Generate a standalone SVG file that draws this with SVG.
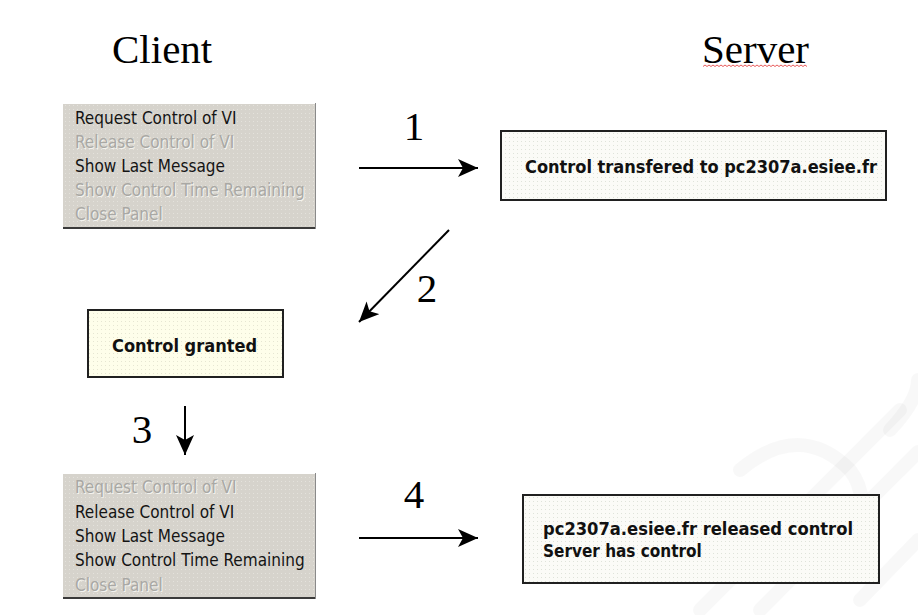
<svg xmlns="http://www.w3.org/2000/svg" width="918" height="615" viewBox="0 0 918 615">
  <defs>
    <!-- dotted fills for the captured panels -->
    <pattern id="dotsGray" width="4" height="4" patternUnits="userSpaceOnUse">
      <rect width="4" height="4" fill="#d6d3cc"/>
      <rect x="1" y="1" width="1" height="1" fill="#e4e2dc"/>
    </pattern>
    <pattern id="dotsWhite" width="4" height="4" patternUnits="userSpaceOnUse">
      <rect width="4" height="4" fill="#fbfbf7"/>
      <rect x="1" y="1" width="1" height="1" fill="#dfe3da"/>
    </pattern>
    <pattern id="dotsYellow" width="4" height="4" patternUnits="userSpaceOnUse">
      <rect width="4" height="4" fill="#fefeea"/>
      <rect x="1" y="1" width="1" height="1" fill="#e6e6d2"/>
    </pattern>
    <marker id="head" markerUnits="userSpaceOnUse" markerWidth="22" markerHeight="20" refX="20" refY="9" orient="auto">
      <path d="M0,0 L20,9 L0,18 L5,9 Z" fill="#000"/>
    </marker>
    <style>
      .title { font-family: "Liberation Serif", "Times New Roman", serif; font-size: 41px; fill: #000; }
      .num { font-family: "Liberation Serif", "Times New Roman", serif; font-size: 41px; fill: #000; text-anchor: middle; }
      .menu { font-family: "DejaVu Sans Condensed", "DejaVu Sans", sans-serif; font-stretch: condensed; font-size: 17px; }
      .on { fill: #141414; }
      .off { fill: #a9a8a4; }
      .offShadow { fill: #f4f3ef; }
      .msg { font-family: "DejaVu Sans Condensed", "DejaVu Sans", sans-serif; font-stretch: condensed; font-size: 17px; font-weight: bold; fill: #111; }
      .panel { stroke: #202020; stroke-width: 2; }
      .conn { stroke: #000; stroke-width: 2; fill: none; marker-end: url(#head); }
    </style>
  </defs>

  <rect width="918" height="615" fill="#ffffff"/>

  <!-- faint logo mark in the lower right corner -->
  <g id="watermark" fill="none" stroke="#000" stroke-opacity="0.028" stroke-width="14" stroke-linecap="round">
    <path d="M700,610 L900,410"/>
    <path d="M760,610 L918,452"/>
    <path d="M740,470 Q800,420 850,470 Q880,510 830,560"/>
    <path d="M860,600 L918,540"/>
    <path d="M890,430 Q918,400 918,380"/>
  </g>

  <!-- column headings -->
  <g id="headings">
    <text class="title" x="112" y="63">Client</text>
    <text class="title" x="702" y="63">Server</text>
    <path d="M703,66.5 l2,-1.5 l2,1.5 l2,-1.5 l2,1.5 l2,-1.5 l2,1.5 l2,-1.5 l2,1.5 l2,-1.5 l2,1.5 l2,-1.5 l2,1.5 l2,-1.5 l2,1.5 l2,-1.5 l2,1.5 l2,-1.5 l2,1.5 l2,-1.5 l2,1.5 l2,-1.5 l2,1.5 l2,-1.5 l2,1.5 l2,-1.5 l2,1.5 l2,-1.5 l2,1.5 l2,-1.5 l2,1.5 l2,-1.5 l2,1.5 l2,-1.5 l2,1.5 l2,-1.5 l2,1.5 l2,-1.5 l2,1.5 l2,-1.5 l2,1.5 l2,-1.5 l2,1.5 l2,-1.5 l2,1.5 l2,-1.5 l2,1.5 l2,-1.5 l2,1.5 l2,-1.5 l2,1.5 l2,-1.5 l2,1.5" fill="none" stroke="#e23030" stroke-width="0.8"/>
  </g>

  <!-- client menu before the request -->
  <g id="menuRequest">
    <rect x="63" y="103" width="253" height="126" fill="url(#dotsGray)"/>
    <line x1="63" y1="103.5" x2="316" y2="103.5" stroke="#ffffff" stroke-width="1"/>
    <line x1="63" y1="228" x2="316" y2="228" stroke="#3a3a3a" stroke-width="2"/>
    <line x1="315.5" y1="103" x2="315.5" y2="229" stroke="#8a8a8a" stroke-width="1"/>
    <text class="menu on" x="75" y="124">Request Control of VI</text>
    <text class="menu offShadow" x="76" y="149">Release Control of VI</text>
    <text class="menu off" x="75" y="148">Release Control of VI</text>
    <text class="menu on" x="75" y="172">Show Last Message</text>
    <text class="menu offShadow" x="76" y="197">Show Control Time Remaining</text>
    <text class="menu off" x="75" y="196">Show Control Time Remaining</text>
    <text class="menu offShadow" x="76" y="221">Close Panel</text>
    <text class="menu off" x="75" y="220">Close Panel</text>
  </g>

  <!-- server message after the transfer -->
  <g id="serverTransfer">
    <rect x="501" y="131" width="385" height="69" fill="url(#dotsWhite)" class="panel"/>
    <text class="msg" x="525" y="173" textLength="352" lengthAdjust="spacingAndGlyphs">Control transfered to pc2307a.esiee.fr</text>
  </g>

  <!-- client confirmation -->
  <g id="granted">
    <rect x="88" y="310" width="195" height="67" fill="url(#dotsYellow)" class="panel"/>
    <text class="msg" x="112" y="352" textLength="145" lengthAdjust="spacingAndGlyphs">Control granted</text>
  </g>

  <!-- client menu while holding control -->
  <g id="menuRelease">
    <rect x="63" y="473" width="253" height="126" fill="url(#dotsGray)"/>
    <line x1="63" y1="473.5" x2="316" y2="473.5" stroke="#ffffff" stroke-width="1"/>
    <line x1="63" y1="598" x2="316" y2="598" stroke="#3a3a3a" stroke-width="2"/>
    <line x1="315.5" y1="473" x2="315.5" y2="599" stroke="#8a8a8a" stroke-width="1"/>
    <text class="menu offShadow" x="76" y="494">Request Control of VI</text>
    <text class="menu off" x="75" y="493">Request Control of VI</text>
    <text class="menu on" x="75" y="518">Release Control of VI</text>
    <text class="menu on" x="75" y="542">Show Last Message</text>
    <text class="menu on" x="75" y="566">Show Control Time Remaining</text>
    <text class="menu offShadow" x="76" y="592">Close Panel</text>
    <text class="menu off" x="75" y="591">Close Panel</text>
  </g>

  <!-- server message after the release -->
  <g id="serverRelease">
    <rect x="523" y="495" width="356" height="88" fill="url(#dotsWhite)" class="panel"/>
    <text class="msg" x="543" y="535" textLength="310" lengthAdjust="spacingAndGlyphs">pc2307a.esiee.fr released control</text>
    <text class="msg" x="543" y="557">Server has control</text>
  </g>

  <!-- numbered steps -->
  <g id="connectors">
    <line class="conn" x1="359" y1="168" x2="478" y2="168"/>
    <text class="num" x="414" y="140">1</text>
    <line class="conn" x1="449" y1="230" x2="359" y2="322"/>
    <text class="num" x="427" y="302">2</text>
    <line class="conn" x1="185" y1="406" x2="185" y2="455"/>
    <text class="num" x="142" y="443">3</text>
    <line class="conn" x1="359" y1="538" x2="478" y2="538"/>
    <text class="num" x="414" y="508">4</text>
  </g>
</svg>
